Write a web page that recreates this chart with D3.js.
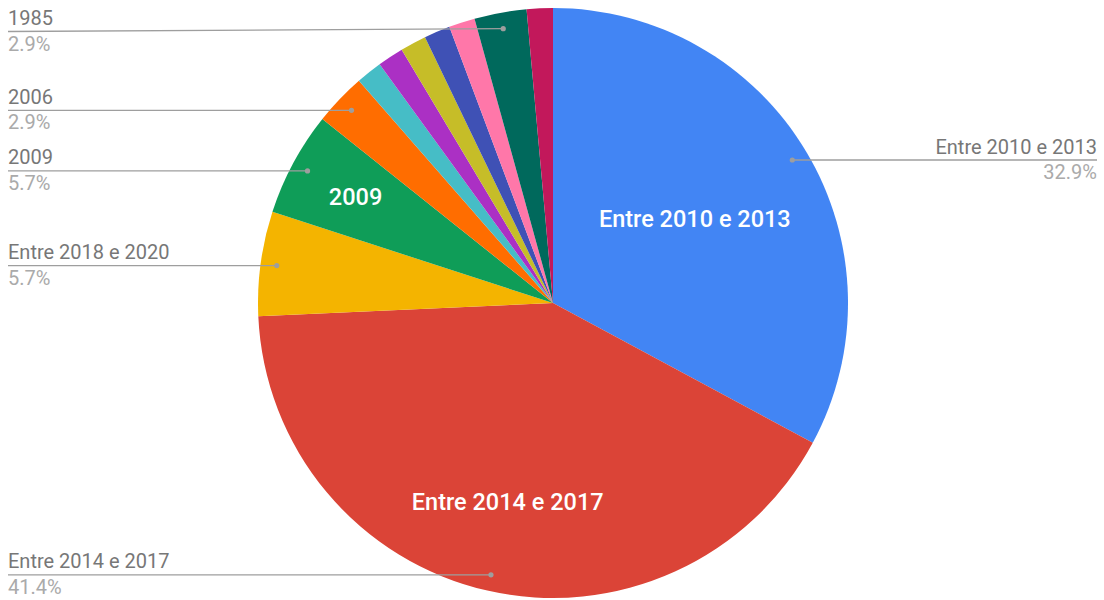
<!DOCTYPE html>
<html>
<head>
<meta charset="utf-8">
<script src="https://cdn.jsdelivr.net/npm/d3@7"></script>
<style>
  html, body { margin: 0; padding: 0; background: #fff; }
  svg { display: block; font-family: Roboto, "Noto Sans", sans-serif; }
</style>
</head>
<body>
<svg id="chart" width="1104" height="600"></svg>
<script>
// Share of answers per period (counts out of 70 responses)
const categories = [
  "Entre 2010 e 2013", "Entre 2014 e 2017", "Entre 2018 e 2020", "2009", "2006",
  "2011", "2008", "2007", "2005", "2000", "1985", "1990"
];
const counts = [23, 29, 4, 4, 2, 1, 1, 1, 1, 1, 2, 1];
const colors = [
  "#4285f4", "#db4437", "#f4b400", "#0f9d58", "#ff6d00",
  "#46bdc6", "#ab30c4", "#c6bd28", "#3f51b5", "#ff77a9", "#00695c", "#c2185b"
];
// Slices that carry a text label outside the pie, and those labelled inside
const outsideLabels = ["Entre 2010 e 2013", "Entre 2014 e 2017", "Entre 2018 e 2020", "2009", "2006", "1985"];
const insideLabels = ["Entre 2010 e 2013", "Entre 2014 e 2017", "2009"];

const width = 1104, height = 600;
const cx = 553, cy = 303, R = 295;
const svg = d3.select("#chart");
const total = d3.sum(counts);
const data = categories.map((c, i) => ({ name: c, value: counts[i], color: colors[i] }));

const pie = d3.pie().sort(null).value(d => d.value);
const arcs = pie(data);
const arc = d3.arc().innerRadius(0).outerRadius(R);

const g = svg.append("g").attr("transform", `translate(${cx},${cy})`);
g.selectAll("path.slice")
  .data(arcs)
  .join("path")
  .attr("class", "slice")
  .attr("d", arc)
  .attr("fill", d => d.data.color);

// Inside labels: radius chosen per slice so text sits clear of the edges
const insideRadius = { "Entre 2010 e 2013": 0.56, "Entre 2014 e 2017": 0.69, "2009": 0.76 };
g.selectAll("text.inner")
  .data(arcs.filter(d => insideLabels.includes(d.data.name)))
  .join("text")
  .attr("class", "inner")
  .attr("transform", d => {
    const a = (d.startAngle + d.endAngle) / 2;
    const r = R * insideRadius[d.data.name];
    return `translate(${r * Math.sin(a)},${-r * Math.cos(a)})`;
  })
  .attr("text-anchor", "middle")
  .attr("dy", "0.35em")
  .attr("fill", "#fff")
  .attr("font-size", 23.5)
  .attr("font-weight", 500)
  .text(d => d.data.name);

// Outside labels with leader lines
const fmt = v => (v / total * 100).toFixed(1) + "%";
const dotR = R * 0.945;
const outer = arcs.filter(d => outsideLabels.includes(d.data.name)).map(d => {
  const a = (d.startAngle + d.endAngle) / 2;
  const x = cx + dotR * Math.sin(a);
  const y = cy - dotR * Math.cos(a);
  const right = Math.sin(a) > 0;
  const ly = Math.max(y, 31.5);
  return { d, x, y, ly, right };
});

const lab = svg.append("g");
outer.forEach(o => {
  const x0 = o.right ? 1097 : 8;
  lab.append("line")
    .attr("x1", x0).attr("y1", o.ly)
    .attr("x2", o.x).attr("y2", o.y)
    .attr("stroke", "#9e9e9e").attr("stroke-width", 1.3);
  lab.append("circle")
    .attr("cx", o.x).attr("cy", o.y).attr("r", 2.6)
    .attr("fill", "#9e9e9e");
  lab.append("text")
    .attr("x", x0).attr("y", o.ly - 6.5)
    .attr("text-anchor", o.right ? "end" : "start")
    .attr("font-size", 20)
    .attr("fill", "#777")
    .text(o.d.data.name);
  lab.append("text")
    .attr("x", x0).attr("y", o.ly + 19)
    .attr("text-anchor", o.right ? "end" : "start")
    .attr("font-size", 20)
    .attr("fill", "#aaa")
    .text(fmt(o.d.data.value));
});
</script>
</body>
</html>
